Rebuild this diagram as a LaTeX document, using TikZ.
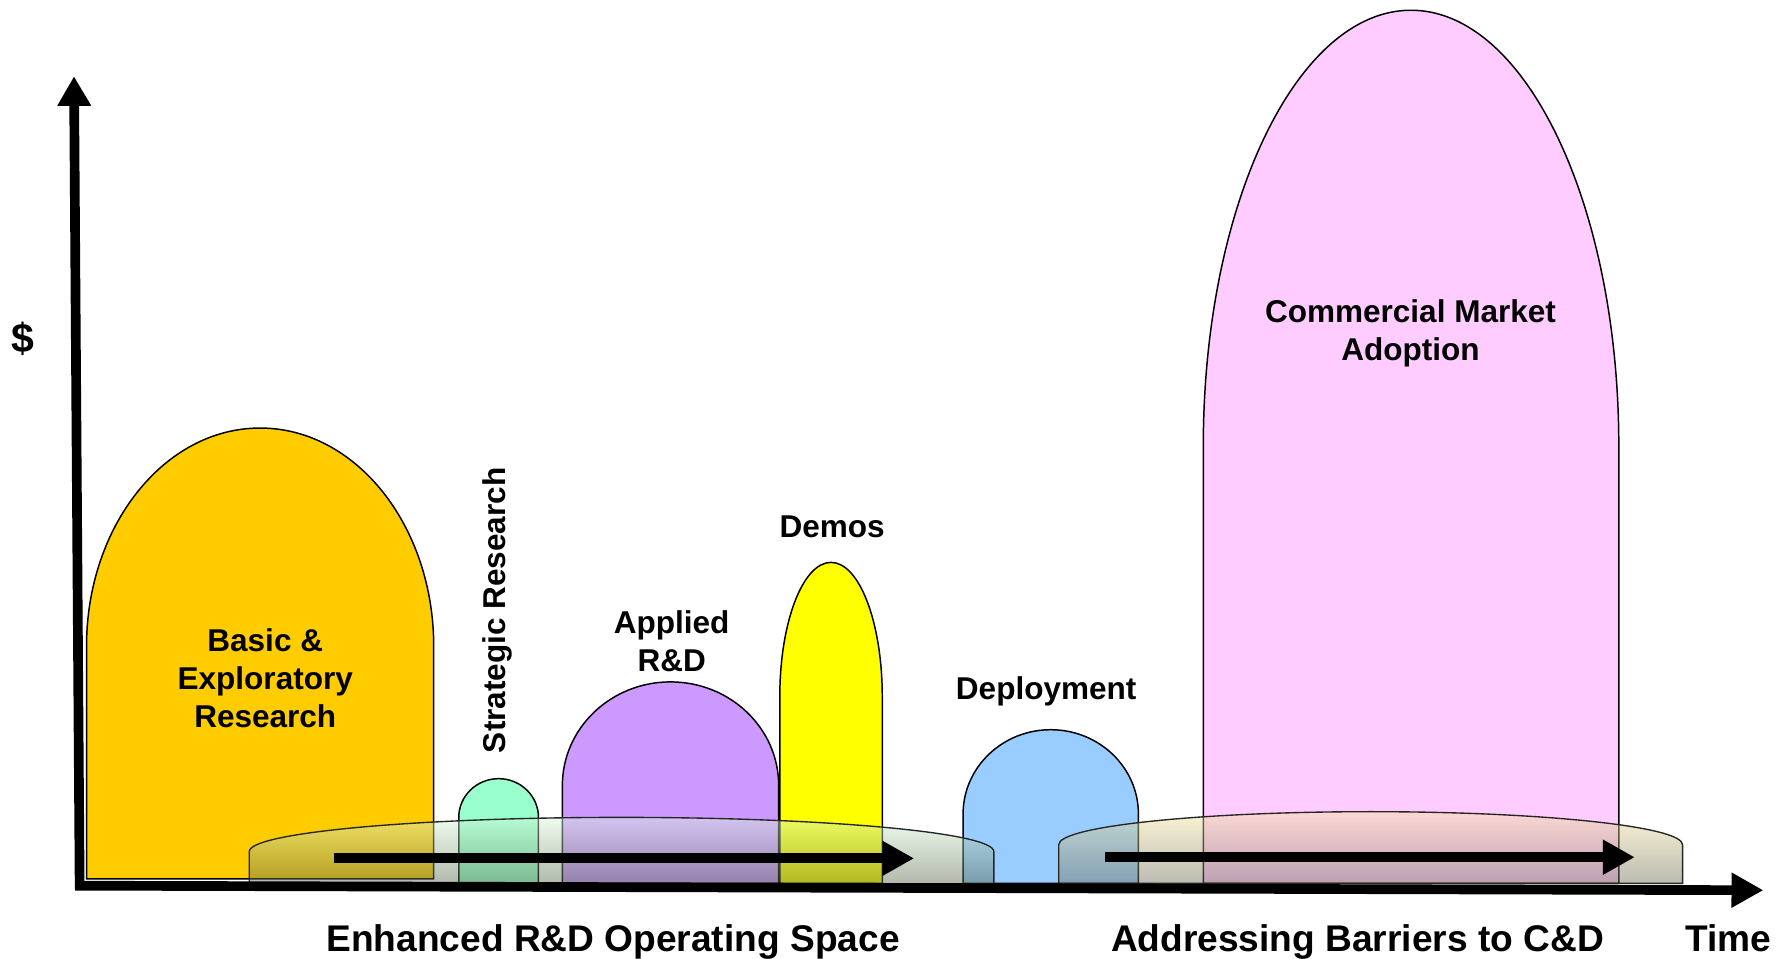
\documentclass[tikz,border=0pt]{standalone}
\usepackage{fontspec}
\setmainfont{Liberation Sans}
\usetikzlibrary{arrows.meta}
\definecolor{cgold}{HTML}{FFCC00}
\definecolor{cgreen}{HTML}{99FFCC}
\definecolor{cpurple}{HTML}{CC99FF}
\definecolor{cyellow}{HTML}{FFFF00}
\definecolor{cblue}{HTML}{99CCFF}
\definecolor{cpink}{HTML}{FFCCFF}
\definecolor{bandAtop}{rgb}{0.86,0.98,0.86}
\definecolor{bandAbot}{rgb}{0.33,0.38,0.28}
\definecolor{bandBtop}{rgb}{0.97,0.91,0.62}
\definecolor{bandBbot}{rgb}{0.42,0.42,0.34}
% dome: #1 style, #2 x1, #3 x2, #4 top y, #5 y where sides start, #6 bottom y
\newcommand\domeshape[6]{%
  \pgfmathsetmacro\dcx{(#2+#3)/2}%
  \pgfmathsetmacro\dkx{0.5523*(#3-#2)/2}%
  \pgfmathsetmacro\dky{#5-0.5523*(#5-#4)}%
  \draw[#1] (#2,#6) -- (#2,#5) .. controls (#2,\dky) and (\dcx-\dkx,#4) .. (\dcx,#4)
     .. controls (\dcx+\dkx,#4) and (#3,\dky) .. (#3,#5) -- (#3,#6) -- cycle;}
\begin{document}
\begin{tikzpicture}[x=1pt,y=-1pt,
  phaseshape/.style={draw=black,line width=1.3pt},
  bandshape/.style={draw=black!85,line width=1.2pt,fill opacity=0.45},
  thickarrow/.style={line width=9pt,-{Triangle[length=28pt,width=29pt]}},
  lbl/.style={font=\fontsize{27.7}{33.2}\selectfont\bfseries,align=center,inner sep=0pt},
  axislbl/.style={font=\fontsize{32.6}{39}\selectfont\bfseries,inner sep=0pt,anchor=base}]
\fill[white] (0,0) rectangle (1568,842);
\useasboundingbox (0,0) rectangle (1568,842);
% phases
\domeshape{phaseshape,fill=cgold}{76}{381}{376}{568}{772}
\domeshape{phaseshape,fill=cgreen}{403}{473}{684}{718}{776}
\domeshape{phaseshape,fill=cpurple}{494}{684}{599}{690}{776}
\domeshape{phaseshape,fill=cyellow}{685}{775}{494}{612}{776}
\domeshape{phaseshape,fill=cblue}{846}{1000}{641}{715}{776}
\domeshape{phaseshape,fill=cpink}{1057}{1422}{9}{392}{776}
% translucent bands
\domeshape{bandshape,top color=bandAtop,bottom color=bandAbot}{219}{873}{718}{748}{777}
\domeshape{bandshape,top color=bandBtop,bottom color=bandBbot}{930}{1478}{713}{742}{776}
% arrows in bands
\coordinate (a1s) at (293,754);
\coordinate (a1e) at (803,754);
\coordinate (a2s) at (971,753);
\coordinate (a2e) at (1436,753);
\draw[thickarrow] (a1s) -- (a1e);
\draw[thickarrow] (a2s) -- (a2e);
% axes
\coordinate (ybot) at (70,781);
\coordinate (ytop) at (65,67);
\coordinate (xleft) at (66,778);
\coordinate (xright) at (1549,782);
\draw[line width=8.5pt,-{Triangle[length=26pt,width=28pt]}] (ybot) -- (ytop);
\draw[line width=8.5pt,-{Triangle[length=28pt,width=29pt]}] (xleft) -- (xright);
% labels
\node[lbl] (basic) at (233,596) {Basic \&\\Exploratory\\Research};
\node[lbl,rotate=90] (strat) at (437,536) {Strategic Research};
\node[lbl] (applied) at (590,563) {Applied\\R\&D};
\node[lbl] (demos) at (731,463) {Demos};
\node[lbl] (deploy) at (919,607) {Deployment};
\node[lbl] (comm) at (1239,293) {Commercial Market\\Adoption};
\node[font=\fontsize{36}{40}\selectfont\bfseries,inner sep=0pt] (dollar) at (20,298) {\$};
\node[axislbl] (enh) at (538.5,836) {Enhanced R\&D Operating Space};
\node[axislbl] (addr) at (1192.5,836) {Addressing Barriers to C\&D};
\node[axislbl] (time) at (1518,836) {Time};
\end{tikzpicture}
\end{document}
